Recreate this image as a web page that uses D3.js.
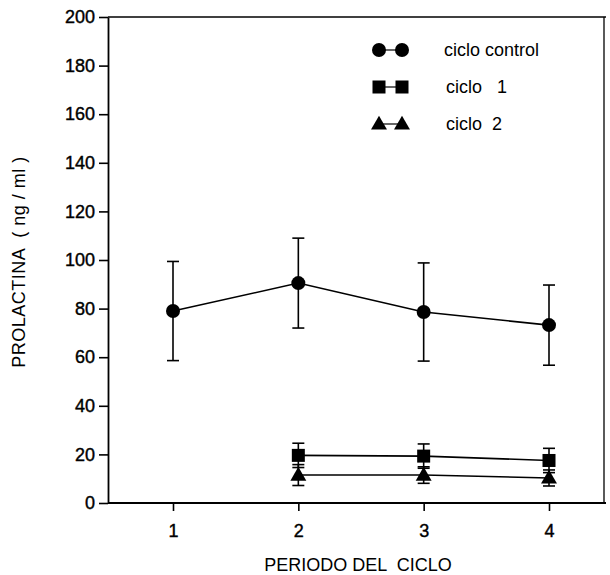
<!DOCTYPE html>
<html>
<head>
<meta charset="utf-8">
<script src="https://cdn.jsdelivr.net/npm/d3@7"></script>
<style>
  body { margin: 0; background: #fff; }
  text { font-family: "Liberation Sans", Arial, sans-serif; fill: #000; }
</style>
</head>
<body>
<div class="chart"></div>
<script>
var svgWidth = 610;
var svgHeight = 575;

var margin = { top: 17, right: 4, bottom: 72, left: 108 };
var width = svgWidth - margin.left - margin.right;
var height = svgHeight - margin.top - margin.bottom;

// data
var periods = [1, 2, 3, 4];
var yTicks = [0, 20, 40, 60, 80, 100, 120, 140, 160, 180, 200];

var controlX = [1, 2, 3, 4];
var controlY = [79, 90.5, 78.6, 73.2];
var controlErr = [20.4, 18.5, 20.2, 16.5];

var ciclo1X = [2, 3, 4];
var ciclo1Y = [19.6, 19.3, 17.5];
var ciclo1Err = [5, 5, 5];

var ciclo2X = [2, 3, 4];
var ciclo2Y = [11.5, 11.5, 10.3];
var ciclo2Err = [4.3, 3.4, 3.3];

var seriesNames = ["ciclo control", "ciclo   1", "ciclo  2"];

var svg = d3.select(".chart")
  .append("svg")
  .attr("width", svgWidth)
  .attr("height", svgHeight);

var chart = svg.append("g")
  .attr("transform", `translate(${margin.left}, ${margin.top})`);

// 1 -> 65px from left axis, 4 -> 441px
var xScale = d3.scaleLinear()
  .domain([1, 4])
  .range([65, 441]);

var yScale = d3.scaleLinear()
  .domain([0, 200])
  .range([height, 0]);

// frame (top and right)
chart.append("line")
  .attr("x1", 0).attr("x2", width)
  .attr("y1", 0).attr("y2", 0)
  .attr("stroke", "#000").attr("stroke-width", 1.6);
chart.append("line")
  .attr("x1", width - 2).attr("x2", width - 2)
  .attr("y1", 0).attr("y2", height)
  .attr("stroke", "#000").attr("stroke-width", 1.3);

// axes
var bottomAxis = d3.axisBottom(xScale)
  .tickValues(periods)
  .tickFormat(d3.format("d"))
  .tickSizeInner(8)
  .tickSizeOuter(0)
  .tickPadding(13);

var leftAxis = d3.axisLeft(yScale)
  .tickValues(yTicks)
  .tickSizeInner(9)
  .tickSizeOuter(0)
  .tickPadding(4);

var xAxis = chart.append("g")
  .attr("transform", `translate(0, ${height})`)
  .call(bottomAxis);
xAxis.select(".domain").attr("d", `M0,0H${width}`);

var yAxis = chart.append("g").call(leftAxis);

[xAxis, yAxis].forEach(function(ax) {
  ax.select(".domain").attr("stroke", "#000").attr("stroke-width", 1.8);
  ax.selectAll(".tick line").attr("stroke", "#000").attr("stroke-width", 1.6);
  ax.selectAll(".tick text")
    .attr("font-size", "18px")
    .attr("font-family", "'Liberation Sans', Arial, sans-serif")
    .attr("stroke", "#000")
    .attr("stroke-width", 0.4)
    .attr("fill", "#000");
});

// axis titles
chart.append("text")
  .attr("x", 250)
  .attr("y", height + 68)
  .attr("text-anchor", "middle")
  .attr("font-size", "18px")
  .attr("xml:space", "preserve")
  .text("PERIODO DEL  CICLO");

chart.append("text")
  .attr("transform", "rotate(-90)")
  .attr("x", -(262 - margin.top))
  .attr("y", 25 - margin.left)
  .attr("text-anchor", "middle")
  .attr("font-size", "18px")
  .attr("letter-spacing", "0.5px")
  .attr("xml:space", "preserve")
  .text("PROLACTINA  ( ng / ml )");

// markers
function drawMarker(g, shape, cx, cy) {
  if (shape === "circle") {
    g.append("circle").attr("cx", cx).attr("cy", cy).attr("r", 7).attr("fill", "#000");
  } else if (shape === "square") {
    g.append("rect").attr("x", cx - 6.5).attr("y", cy - 6.5)
      .attr("width", 13).attr("height", 13).attr("fill", "#000");
  } else {
    var s = d3.symbol().type(d3.symbolTriangle).size(110);
    g.append("path").attr("d", s()).attr("transform", `translate(${cx},${cy + 1})`).attr("fill", "#000");
  }
}

function drawSeries(xs, ys, errs, shape) {
  var pts = xs.map((x, i) => ({ x: x, y: ys[i], e: errs[i] }));
  var g = chart.append("g");

  // error bars
  pts.forEach(function(d) {
    var cx = xScale(d.x);
    g.append("line")
      .attr("x1", cx).attr("x2", cx)
      .attr("y1", yScale(d.y + d.e)).attr("y2", yScale(d.y - d.e))
      .attr("stroke", "#000").attr("stroke-width", 1.6);
    [d.y + d.e, d.y - d.e].forEach(function(v) {
      g.append("line")
        .attr("x1", cx - 6).attr("x2", cx + 6)
        .attr("y1", yScale(v)).attr("y2", yScale(v))
        .attr("stroke", "#000").attr("stroke-width", 1.6);
    });
  });

  var line = d3.line().x(d => xScale(d.x)).y(d => yScale(d.y));
  g.append("path")
    .datum(pts)
    .attr("d", line)
    .attr("fill", "none")
    .attr("stroke", "#000")
    .attr("stroke-width", 1.6);

  pts.forEach(d => drawMarker(g, shape, xScale(d.x), yScale(d.y)));
}

drawSeries(controlX, controlY, controlErr, "circle");
drawSeries(ciclo1X, ciclo1Y, ciclo1Err, "square");
drawSeries(ciclo2X, ciclo2Y, ciclo2Err, "triangle");

// legend
var shapes = ["circle", "square", "triangle"];
var legend = svg.append("g");
shapes.forEach(function(shape, i) {
  var ly = 50 + i * 37;
  legend.append("line")
    .attr("x1", 378).attr("x2", 402)
    .attr("y1", ly).attr("y2", ly)
    .attr("stroke", "#000").attr("stroke-width", 1.2);
  drawMarker(legend, shape, 379, ly);
  drawMarker(legend, shape, 402, ly);
  legend.append("text")
    .attr("x", i === 0 ? 444 : 446)
    .attr("y", ly + 6)
    .attr("font-size", "18px")
    .attr("xml:space", "preserve")
    .text(seriesNames[i]);
});
</script>
</body>
</html>
